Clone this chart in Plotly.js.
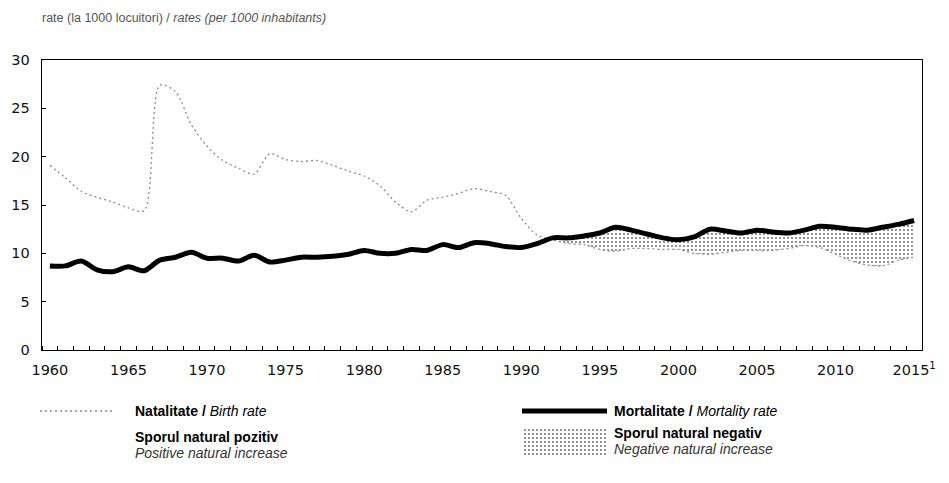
<!DOCTYPE html>
<html><head><meta charset="utf-8">
<script src="https://cdn.plot.ly/plotly-3.0.1.min.js"></script>
<style>html,body{margin:0;padding:0;background:#fff;}#chart{width:949px;height:483px;}</style>
</head><body><div id="chart"></div>
<script>
// ---- data ----
const years = [1960,1961,1962,1963,1964,1965,1966,1967,1968,1969,
  1970,1971,1972,1973,1974,1975,1976,1977,1978,1979,
  1980,1981,1982,1983,1984,1985,1986,1987,1988,1989,
  1990,1991,1992,1993,1994,1995,1996,1997,1998,1999,
  2000,2001,2002,2003,2004,2005,2006,2007,2008,2009,
  2010,2011,2012,2013,2014,2015];
const birthRate = [19.1,17.8,16.4,15.8,15.3,14.7,14.4,27.4,26.7,23.3,
  21.1,19.6,18.8,18.2,20.3,19.7,19.5,19.6,19.1,18.5,
  18.0,17.0,15.3,14.3,15.5,15.8,16.2,16.7,16.4,16.0,
  13.6,11.9,11.4,11.0,10.9,10.4,10.2,10.5,10.5,10.4,
  10.4,10.0,9.9,10.1,10.3,10.3,10.3,10.5,10.8,10.6,
  9.9,9.2,8.8,8.7,9.3,9.6];
const mortalityRate = [8.7,8.7,9.2,8.3,8.1,8.6,8.2,9.3,9.6,10.1,
  9.5,9.5,9.2,9.8,9.1,9.3,9.6,9.6,9.7,9.9,
  10.3,10.0,10.0,10.4,10.3,10.9,10.6,11.1,11.0,10.7,
  10.6,11.0,11.6,11.6,11.8,12.1,12.7,12.4,12.0,11.6,
  11.4,11.7,12.5,12.3,12.1,12.4,12.2,12.1,12.4,12.8,
  12.7,12.5,12.4,12.7,13.0,13.4];
const tickYears = [1960,1965,1970,1975,1980,1985,1990,1995,2000,2005,2010,2015];
const tickLabels = ['1960','1965','1970','1975','1980','1985','1990','1995','2000','2005','2010','2015<sup>1</sup>'];
const yTicks = [0,5,10,15,20,25,30];

const titleText = 'rate (la 1000 locuitori) / <i>rates (per 1000 inhabitants)</i>';
const legBirth = '<b>Natalitate /</b> <i>Birth rate</i>';
const legMort = '<b>Mortalitate /</b> <i>Mortality rate</i>';
const legPos1 = '<b>Sporul natural pozitiv</b>';
const legPos2 = '<i>Positive natural increase</i>';
const legNeg1 = '<b>Sporul natural negativ</b>';
const legNeg2 = '<i>Negative natural increase</i>';

// ---- geometry helpers ----
const W = 949, H = 483, L = 42, R = 27, T = 60, B = 10;
const plotW = W - L - R, plotH = H - T - B;
const px = x => (x - L) / plotW;
const py = y => (H - B - y) / plotH;
const yDomain0 = py(350);

// ---- build fill boundaries (with crossing points) ----
const xs = [], hi = [], lo = [], mid = [];
for (let i = 0; i < years.length; i++) {
  const b = birthRate[i], m = mortalityRate[i];
  xs.push(years[i]); hi.push(Math.max(b, m)); lo.push(Math.min(b, m)); mid.push(m);
  if (i < years.length - 1) {
    const d0 = b - m, d1 = birthRate[i + 1] - mortalityRate[i + 1];
    if (d0 * d1 < 0) {
      const t = d0 / (d0 - d1);
      const yc = m + t * (mortalityRate[i + 1] - m);
      xs.push(years[i] + t); hi.push(yc); lo.push(yc); mid.push(yc);
    }
  }
}
const negPattern = {shape: '.', fgcolor: '#777', bgcolor: '#ffffff', size: 4, solidity: 0.22};
const lineShape = {shape: 'spline', smoothing: 0.8};
const noLine = () => Object.assign({width: 0, color: 'rgba(0,0,0,0)'}, lineShape);

const traces = [
  {x: xs, y: mid, mode: 'lines', line: noLine(), hoverinfo: 'skip', showlegend: false},
  {x: xs, y: hi, mode: 'lines', fill: 'tonexty', fillcolor: 'rgba(255,255,255,1)', line: noLine(), name: 'Sporul natural pozitiv', showlegend: false},
  {x: xs, y: lo, mode: 'lines', line: noLine(), hoverinfo: 'skip', showlegend: false},
  {x: xs, y: mid, mode: 'lines', fill: 'tonexty', fillcolor: '#ffffff', fillpattern: negPattern, line: noLine(), name: 'Sporul natural negativ', showlegend: false},
  {x: years, y: birthRate, mode: 'lines', line: Object.assign({width: 1.3, color: '#8a8a8a', dash: '2px,3px'}, lineShape), name: 'Natalitate', showlegend: false},
  {x: years, y: mortalityRate, mode: 'lines', line: Object.assign({width: 5, color: '#000'}, lineShape), name: 'Mortalitate', showlegend: false},
  // legend swatch for the patterned fill
  {x: [0, 1, 1, 0, 0], y: [0, 0, 1, 1, 0], xaxis: 'x2', yaxis: 'y2', mode: 'lines', fill: 'toself', fillcolor: '#ffffff', fillpattern: negPattern, line: {width: 0, color: 'rgba(0,0,0,0)'}, hoverinfo: 'skip', showlegend: false}
];

const tickFont = {family: 'DejaVu Sans, sans-serif', size: 14.5, color: '#111'};
const ann = (x, y, text, size, color) => ({xref: 'paper', yref: 'paper', x: px(x), y: py(y), xanchor: 'left', yanchor: 'middle', text: text, showarrow: false, font: {size: size, color: color || '#000'}});

const layout = {
  width: W, height: H,
  margin: {l: L, r: R, t: T, b: B},
  paper_bgcolor: '#fff', plot_bgcolor: '#fff',
  showlegend: false,
  font: {family: 'Liberation Sans, Arial, sans-serif', color: '#000'},
  xaxis: {range: [1959.5, 2015.5], tickmode: 'array', tickvals: tickYears, ticktext: tickLabels,
    ticks: '', tickcolor: '#000',
    showline: true, linecolor: '#000', linewidth: 1.3, mirror: true,
    showgrid: false, zeroline: false, tickfont: tickFont, ticklabelstandoff: 6,
    minor: {tickmode: 'linear', tick0: 1959.5, dtick: 1, ticks: 'inside', ticklen: 4, tickcolor: '#000', showgrid: false}},
  yaxis: {range: [0, 30], domain: [yDomain0, 1], tickmode: 'array', tickvals: yTicks,
    ticks: 'inside', ticklen: 4, tickcolor: '#000',
    showline: true, linecolor: '#000', linewidth: 1.3, mirror: true,
    showgrid: false, zeroline: false, tickfont: tickFont, ticklabelstandoff: 8},
  xaxis2: {domain: [px(523), px(607)], range: [0, 1], visible: false, anchor: 'y2', fixedrange: true},
  yaxis2: {domain: [py(455), py(428)], range: [0, 1], visible: false, anchor: 'x2', fixedrange: true},
  shapes: [
    {type: 'line', xref: 'paper', yref: 'paper', x0: px(40), x1: px(113), y0: py(411), y1: py(411), line: {color: '#8a8a8a', width: 1.3, dash: '2px,3px'}},
    {type: 'line', xref: 'paper', yref: 'paper', x0: px(522), x1: px(607), y0: py(411), y1: py(411), line: {color: '#000', width: 5}}
  ],
  annotations: [
    ann(40, 18, titleText, 12.5, '#555'),
    ann(133, 411, legBirth, 14),
    ann(612, 411, legMort, 14),
    ann(133, 437, legPos1, 14),
    ann(133, 453, legPos2, 14, '#333'),
    ann(612, 433, legNeg1, 14),
    ann(612, 449, legNeg2, 14, '#333')
  ]
};

Plotly.newPlot('chart', traces, layout, {displayModeBar: false, staticPlot: true});
</script>
</body></html>
